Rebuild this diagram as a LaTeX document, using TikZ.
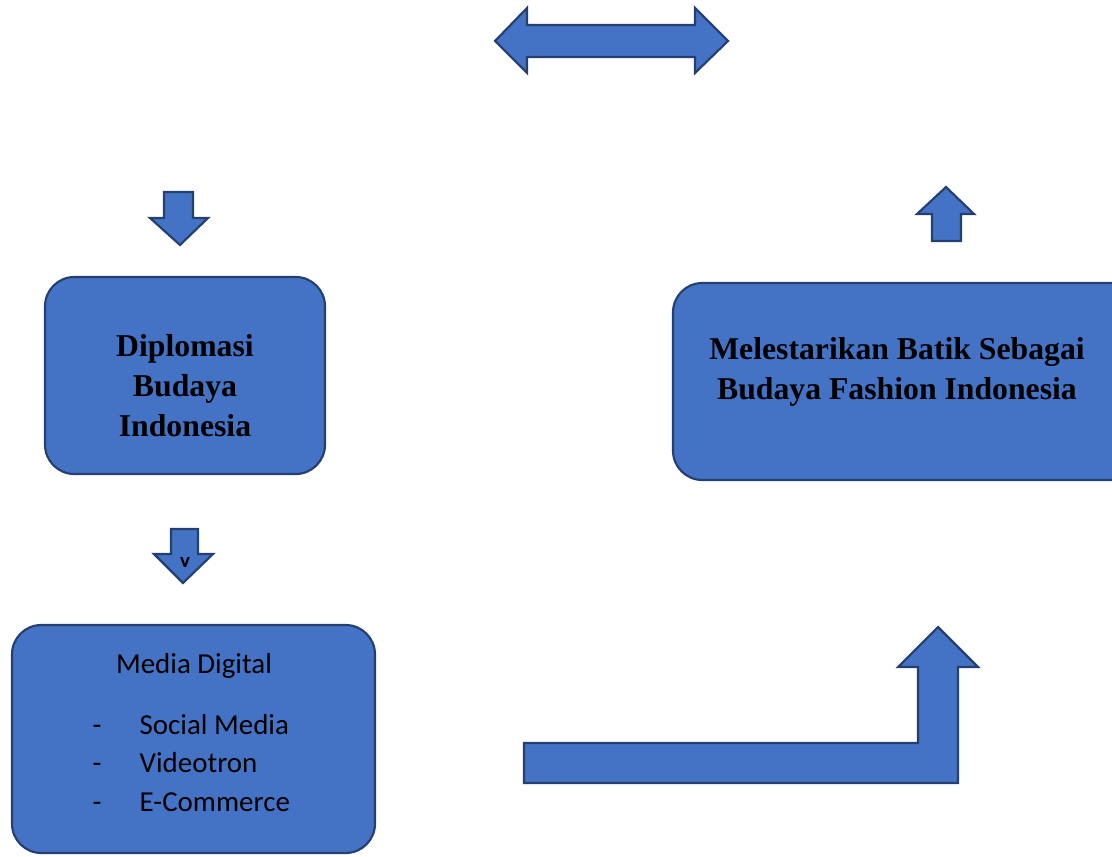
\documentclass[tikz,border=0pt]{standalone}
\usepackage{fontspec}
\setmainfont{Liberation Serif}
\newfontfamily\calfont{Carlito}
\definecolor{boxfill}{HTML}{4472C4}
\definecolor{boxline}{HTML}{243F70}
\begin{document}
\begin{tikzpicture}[x=0.75pt,y=-0.75pt,
  shp/.style={fill=boxfill,draw=boxline,line width=1.6pt,line join=miter},
  rbox/.style={shp,rounded corners=22pt},
  btxt/.style={font=\fontsize{23.8}{30}\selectfont\bfseries,align=center,text=black},
  ltxt/.style={font=\calfont\fontsize{21.7}{26}\selectfont,text=black,anchor=base west}]
\useasboundingbox (0,0) rectangle (1112,856);
\clip (0,0) rectangle (1112,856);
% double arrow top
\draw[shp] (495,41) -- (527,8) -- (527,25) -- (695,25) -- (695,8) -- (728,41)
  -- (695,73) -- (695,57) -- (527,57) -- (527,73) -- cycle;
% down arrow 1
\draw[shp] (164,192) -- (193,192) -- (193,218) -- (208,218) -- (180,245)
  -- (150,218) -- (164,218) -- cycle;
% box Diplomasi
\draw[rbox] (45,277) rectangle (325,474);
\node[btxt] (diplo) at (185,386) {Diplomasi\\Budaya\\Indonesia};
% down arrow 2
\draw[shp] (171,529) -- (198,529) -- (198,554) -- (213,554) -- (183,583)
  -- (154,554) -- (171,554) -- cycle;
\begin{scope}
\clip (150,557) rectangle (220,590);
\node[font=\calfont\fontsize{21}{24}\selectfont,text=black,anchor=base] (vmark) at (185,567) {V};
\end{scope}
% box Media Digital
\draw[rbox] (12,625) rectangle (375,853);
\node[font=\calfont\fontsize{21.7}{26}\selectfont,text=black,anchor=base] (media) at (194,673) {Media Digital};
\node[ltxt] (d1) at (88,734) {-};
\node[ltxt] (d2) at (88,772) {-};
\node[ltxt] (d3) at (88,811) {-};
\node[ltxt] (l1) at (135,734) {Social Media};
\node[ltxt] (l2) at (135,772) {Videotron};
\node[ltxt] (l3) at (135,811) {E-Commerce};
% up arrow small
\draw[shp] (946,187) -- (974,214) -- (961,214) -- (961,241) -- (932,241)
  -- (932,214) -- (917,214) -- cycle;
% box Melestarikan
\draw[rbox] (673,283) rectangle (1140,480);
\node[btxt] (lestari) at (897,372) {Melestarikan Batik Sebagai\\Budaya Fashion Indonesia};
% bent arrow
\draw[shp] (524,743) -- (918,743) -- (918,667) -- (898,667) -- (938,627)
  -- (978,667) -- (958,667) -- (958,783) -- (524,783) -- cycle;
\end{tikzpicture}
\end{document}
